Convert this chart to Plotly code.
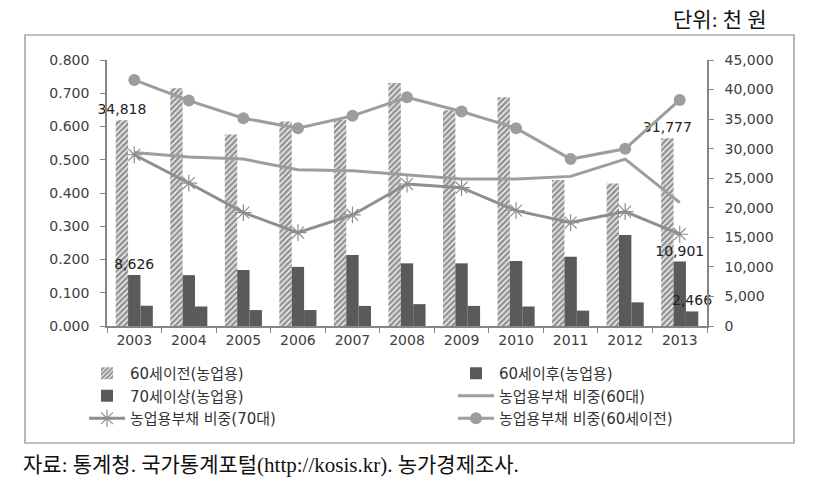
import plotly.graph_objects as go

years = ["2003", "2004", "2005", "2006", "2007", "2008", "2009", "2010", "2011", "2012", "2013"]

# bars (천 원, right axis)
debt_before60 = [34818, 40200, 32400, 34600, 34900, 41100, 36500, 38700, 24700, 24100, 31777]
debt_after60 = [8626, 8600, 9470, 10000, 12000, 10600, 10600, 11000, 11700, 15400, 10901]
debt_over70 = [3430, 3300, 2700, 2700, 3400, 3700, 3400, 3300, 2600, 4000, 2466]

# share of farm debt (left axis)
share_60s = [0.522, 0.508, 0.502, 0.470, 0.467, 0.455, 0.442, 0.442, 0.450, 0.502, 0.371]
share_70s = [0.515, 0.430, 0.341, 0.281, 0.334, 0.427, 0.416, 0.347, 0.311, 0.344, 0.276]
share_before60 = [0.740, 0.678, 0.625, 0.595, 0.632, 0.688, 0.645, 0.595, 0.502, 0.533, 0.680]

# which points carry a data label
label_idx = {"before60": [0, 10], "after60": [0, 10], "over70": [10]}

left_ticks = [0.0, 0.1, 0.2, 0.3, 0.4, 0.5, 0.6, 0.7, 0.8]
right_ticks = [0, 5000, 10000, 15000, 20000, 25000, 30000, 35000, 40000, 45000]

FONT = "DejaVu Sans, Noto Sans CJK KR, sans-serif"
SERIF = "Liberation Serif, Noto Sans CJK KR, serif"
DARKBAR = "#5a5a5a"
LINE = "#9d9d9d"
AXIS = "#868686"
TXT = "#333333"

# the page body adds an 8px offset, so the plot area sits at 99..699 x 52..318 in the figure
BODY = 8


def labels(values, idx):
    return [f"{v:,}" if i in idx else "" for i, v in enumerate(values)]


def px_x(p):
    return (p - 107) / 600


def px_y(p):
    return (326 - p) / 266


fig = go.Figure()
bar_common = dict(x=years, textposition="outside", cliponaxis=False, constraintext="none",
                  textfont=dict(family=FONT, size=14, color="#222222"), yaxis="y")
fig.add_trace(go.Bar(
    y=debt_before60, name="60세이전(농업용)", text=labels(debt_before60, label_idx["before60"]),
    marker=dict(color="white", line=dict(width=0),
                pattern=dict(shape="/", fgcolor="#2a2a2a", bgcolor="white", size=4, solidity=0.7)),
    legend="legend", **bar_common))
fig.add_trace(go.Bar(
    y=debt_after60, name="60세이후(농업용)", text=labels(debt_after60, label_idx["after60"]),
    marker=dict(color=DARKBAR, line=dict(width=0)), legend="legend2", **bar_common))
fig.add_trace(go.Bar(
    y=debt_over70, name="70세이상(농업용)", text=labels(debt_over70, label_idx["over70"]),
    marker=dict(color=DARKBAR, line=dict(width=0)), legend="legend", **bar_common))

fig.add_trace(go.Scatter(
    x=years, y=share_60s, name="농업용부채 비중(60대)", mode="lines",
    line=dict(color=LINE, width=3), yaxis="y2", legend="legend2"))
fig.add_trace(go.Scatter(
    x=years, y=share_70s, name="농업용부채 비중(70대)", mode="lines+markers",
    line=dict(color="#8e8e8e", width=3),
    marker=dict(symbol="asterisk-open", size=14, line=dict(color="#8e8e8e", width=1.2)),
    yaxis="y2", legend="legend"))
fig.add_trace(go.Scatter(
    x=years, y=share_before60, name="농업용부채 비중(60세이전)", mode="lines+markers",
    line=dict(color=LINE, width=3), marker=dict(symbol="circle", size=12, color=LINE),
    yaxis="y2", legend="legend2"))

legend_common = dict(orientation="v", yanchor="top", xanchor="left", bgcolor="rgba(0,0,0,0)",
                     font=dict(family=FONT, size=15, color=TXT), tracegroupgap=0, itemwidth=36)

fig.update_layout(
    width=820, height=496,
    margin=dict(l=107 - BODY, r=820 - 707 + BODY, t=60 - BODY, b=496 - 326 + BODY,
                autoexpand=False),
    paper_bgcolor="white", plot_bgcolor="white",
    font=dict(family=FONT, size=14, color="#404040"),
    barmode="group", bargap=0.32, bargroupgap=0,
    xaxis=dict(type="category", range=[-0.5, len(years) - 0.5], showline=True,
               linecolor=AXIS, linewidth=1.5, ticks="outside", tickson="boundaries",
               ticklen=5, tickcolor=AXIS, showgrid=False,
               tickfont=dict(size=14, color="#404040")),
    yaxis=dict(side="right", range=[0, 45000], tickvals=right_ticks, tickformat=",",
               showline=True, linecolor=AXIS, linewidth=1.5, ticks="outside", ticklen=5,
               tickcolor=AXIS, showgrid=False, zeroline=False, ticklabelstandoff=8),
    yaxis2=dict(side="left", overlaying="y", range=[0, 0.8], tickvals=left_ticks,
                tickformat=".3f", showline=True, linecolor=AXIS, linewidth=1.5,
                ticks="outside", ticklen=5, tickcolor=AXIS, showgrid=False, zeroline=False,
                ticklabelstandoff=8),
    legend=dict(x=px_x(84), y=px_y(357), **legend_common),
    legend2=dict(x=px_x(453), y=px_y(357), **legend_common),
    showlegend=True,
)

fig.add_shape(type="rect", xref="paper", yref="paper",
              x0=px_x(25), x1=px_x(794), y0=px_y(443), y1=px_y(35),
              line=dict(color=AXIS, width=1.2), fillcolor="rgba(0,0,0,0)", layer="below")

fig.add_annotation(text="단위: 천 원", xref="paper", yref="paper", x=px_x(769), y=px_y(20),
                   xanchor="right", yanchor="middle", showarrow=False,
                   font=dict(family=SERIF, size=21, color="#111111"))
fig.add_annotation(text="자료: 통계청. 국가통계포털(http://kosis.kr). 농가경제조사.",
                   xref="paper", yref="paper", x=px_x(21), y=px_y(465),
                   xanchor="left", yanchor="middle", showarrow=False,
                   font=dict(family=SERIF, size=21, color="#111111"))

fig.write_html("out.html")
